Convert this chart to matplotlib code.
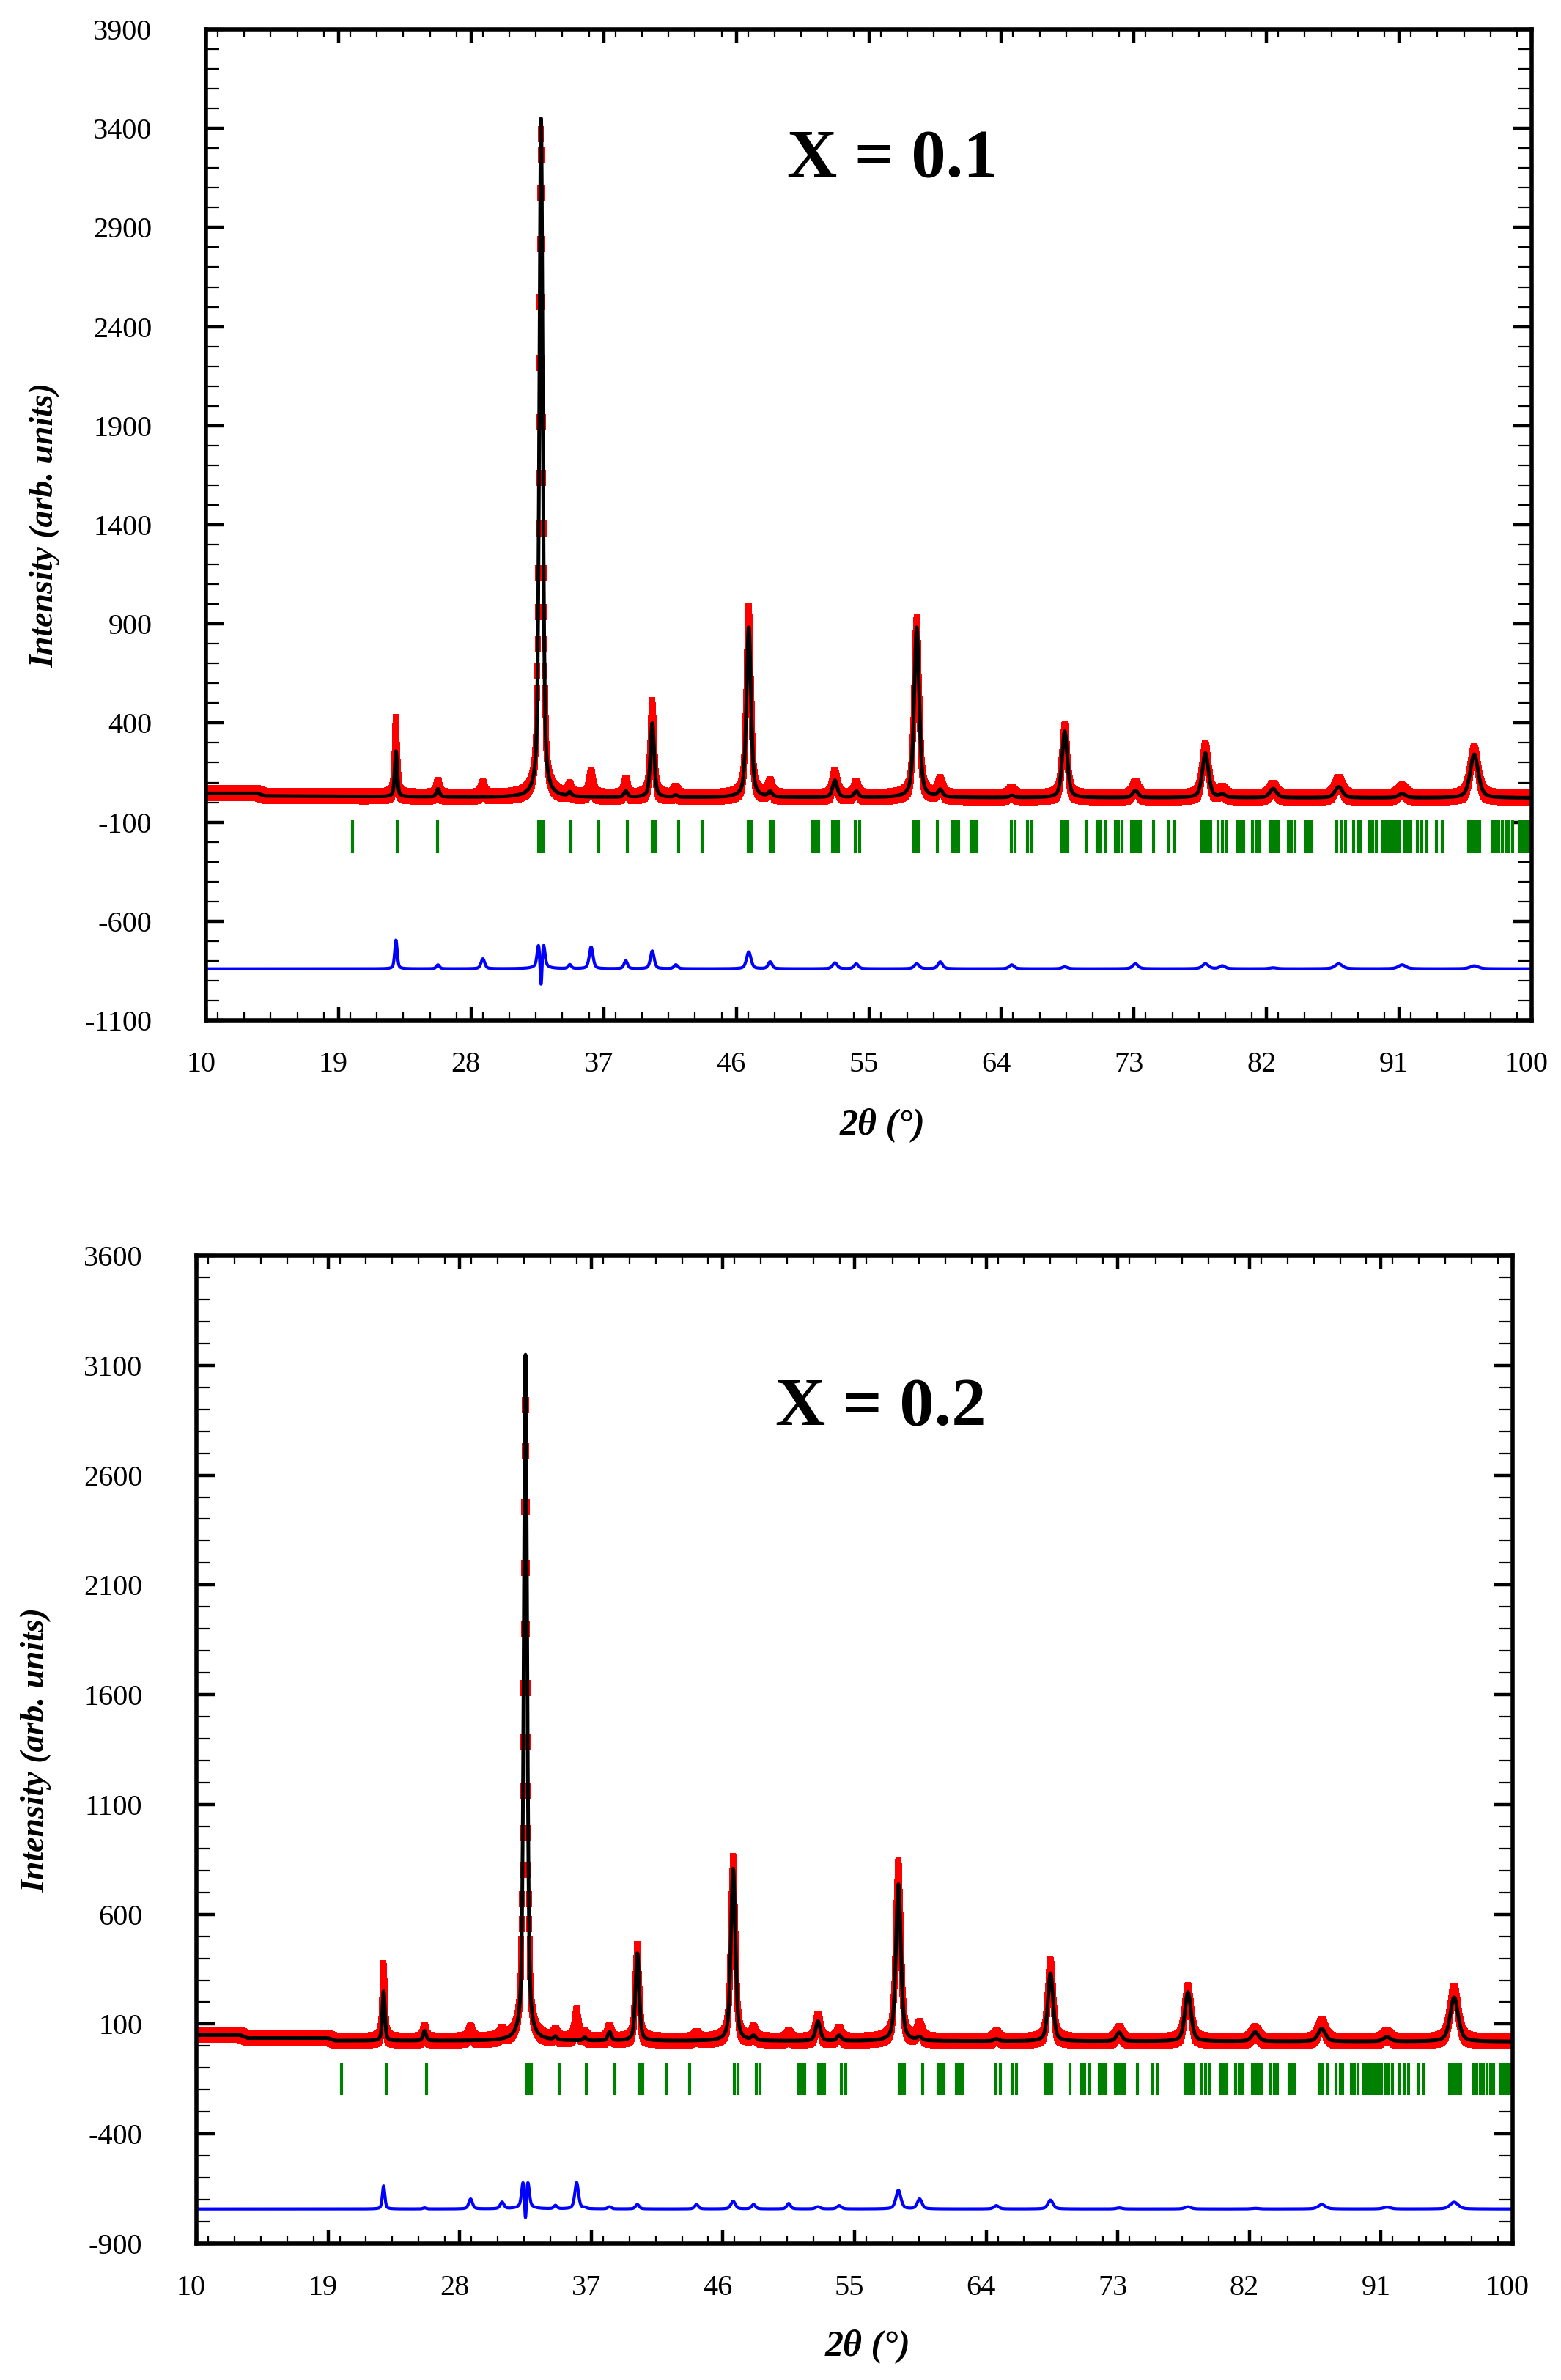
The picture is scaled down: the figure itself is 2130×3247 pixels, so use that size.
#!/usr/bin/env python3

# rietveld_plot.py - Rietveld refinement plots for X = 0.1 and X = 0.2

import matplotlib
matplotlib.use("Agg")
import matplotlib.pyplot as plt
import matplotlib.transforms as mtransforms
from matplotlib.ticker import MultipleLocator
import numpy as np

plt.rcParams["font.family"] = ["Liberation Serif", "DejaVu Serif"]
plt.rcParams["axes.unicode_minus"] = False

# ---- data ----------------------------------------------------------------
# Peak table, X = 0.1 (2theta, calc height, obs height above background, FWHM)
POS_1 = [22.9, 25.75, 28.8, 32.75, 34.7, 36.15, 38.5, 40.3, 41.9, 46.85, 48.3, 52.7,
         54.15, 58.25, 59.85, 64.7, 68.3, 73.1, 77.85, 79.0, 82.45, 86.9, 91.2, 96.1]
CALC_1 = [230, 40, 0, 3440, 20, 0, 30, 375, 10, 860, 25, 85,
          30, 860, 35, 10, 335, 35, 225, 15, 45, 55, 20, 220]
OBS_1 = [375, 60, 50, 3360, 40, 110, 70, 465, 30, 945, 60, 115,
         55, 885, 70, 30, 345, 60, 250, 30, 50, 80, 40, 235]
FWHM_1 = [0.2, 0.25, 0.3, 0.27, 0.25, 0.3, 0.28, 0.3, 0.3, 0.36, 0.32, 0.38,
          0.35, 0.4, 0.38, 0.4, 0.42, 0.45, 0.5, 0.45, 0.55, 0.6, 0.6, 0.65]
FWHM_OBS_1 = [0.2, 0.25, 0.3, 0.29, 0.25, 0.3, 0.28, 0.3, 0.3, 0.36, 0.32, 0.38,
              0.35, 0.4, 0.38, 0.4, 0.42, 0.45, 0.5, 0.45, 0.55, 0.6, 0.6, 0.65]
BG_X_1 = [10, 13.5, 14.0, 30, 100]
BG_Y_1 = [45, 45, 32, 25, 22]

# Peak table, X = 0.2
POS_2 = [22.8, 25.6, 28.75, 30.9, 32.5, 34.55, 36.0, 36.55, 38.25, 40.15, 44.2, 46.7, 48.1,
         50.5, 52.5, 53.95, 58.0, 59.45, 64.7, 68.4, 73.1, 77.8, 82.4, 86.95, 91.4, 96.0]
CALC_2 = [225, 45, 0, 0, 3125, 15, 0, 15, 40, 400, 0, 785, 20,
          0, 90, 25, 715, 15, 10, 310, 40, 225, 42, 58, 20, 202]
OBS_2 = [330, 50, 45, 30, 3085, 30, 120, 20, 50, 420, 20, 820, 40,
         25, 100, 40, 800, 60, 25, 350, 45, 235, 45, 78, 28, 233]
FWHM_2 = [0.2, 0.25, 0.3, 0.3, 0.27, 0.25, 0.3, 0.25, 0.28, 0.3, 0.3, 0.36, 0.32,
          0.3, 0.38, 0.35, 0.4, 0.38, 0.4, 0.42, 0.45, 0.5, 0.55, 0.6, 0.6, 0.65]
FWHM_OBS_2 = [0.2, 0.25, 0.3, 0.3, 0.29, 0.25, 0.3, 0.25, 0.28, 0.3, 0.3, 0.36, 0.32,
              0.3, 0.38, 0.35, 0.4, 0.38, 0.4, 0.42, 0.45, 0.5, 0.55, 0.6, 0.6, 0.65]
BG_X_2 = [10, 13.0, 13.5, 19.0, 19.5, 100]
BG_Y_2 = [50, 50, 36, 36, 24, 20]

# Bragg reflection positions (green ticks)
BRAGG_POS = [19.93, 23.0, 25.74, 32.58, 32.75, 32.9, 34.8, 36.68, 38.59, 40.28, 40.5,
             42.1, 43.7, 46.8, 47.02, 48.3, 48.52, 51.2, 51.4, 51.58, 52.55, 52.75, 52.95,
             54.1, 54.4, 58.05, 58.22, 58.4, 59.64, 60.7, 60.92, 61.1, 61.95, 62.15, 62.35,
             64.66, 64.95, 65.79, 66.05, 68.1, 68.3, 68.5, 69.74, 70.52, 70.75, 71.04,
             71.74, 71.95, 72.2, 72.85, 73.05, 73.25, 73.45, 74.34, 75.38, 75.72, 77.6,
             77.8, 78.02, 78.2, 78.7, 78.99, 79.27, 80.05, 80.25, 80.45, 81.05, 81.3,
             81.55, 82.22, 82.4, 82.6, 82.8, 83.46, 83.69, 83.92, 84.7, 84.9, 85.05,
             86.75, 87.04, 87.36, 87.9, 88.2, 88.37, 89.0, 89.2, 89.45, 89.85, 90.05,
             90.25, 90.45, 90.65, 90.85, 91.03, 91.35, 91.55, 91.8, 92.24, 92.56, 92.9,
             93.54, 93.92, 95.7, 95.9, 96.1, 96.3, 96.45, 97.32, 97.55, 97.78, 98.0,
             98.25, 98.48, 98.7, 99.15, 99.35, 99.55, 99.75, 99.95]

X_TICKS = [10, 19, 28, 37, 46, 55, 64, 73, 82, 91, 100]
Y_TICKS_1 = [-1100, -600, -100, 400, 900, 1400, 1900, 2400, 2900, 3400, 3900]
Y_TICKS_2 = [-900, -400, 100, 600, 1100, 1600, 2100, 2600, 3100, 3600]

STEP = 0.02
ETA = 0.5

OBS_MARKER = [(-0.4, -1), (0.4, -1), (0.4, 1), (-0.4, 1), (-0.4, -1)]


def profile(tth, pos, heights, widths):
    """Sum of pseudo-Voigt peaks."""
    out = np.zeros_like(tth)
    for p, h, w in zip(pos, heights, widths):
        if h == 0:
            continue
        t = (tth - p) / w
        out += h * (ETA / (1 + 4 * t**2) + (1 - ETA) * np.exp(-4 * np.log(2) * t**2))
    return out


def style_axes(ax, yticks, fig):
    ax.set_xlim(10, 100)
    ax.set_ylim(yticks[0], yticks[-1])
    ax.set_xticks(X_TICKS)
    ax.set_yticks(yticks)
    ax.xaxis.set_minor_locator(MultipleLocator(1.8))
    ax.yaxis.set_minor_locator(MultipleLocator(100))
    ax.tick_params(which="both", direction="in", top=True, right=True, labelsize=29)
    ax.tick_params(axis="x", which="major", length=13, width=3.2, pad=30)
    ax.tick_params(axis="x", which="minor", length=8, width=1.6)
    ax.tick_params(axis="y", which="major", length=18, width=3.2, pad=53)
    ax.tick_params(axis="y", which="minor", length=13, width=1.6)
    for sp in ax.spines.values():
        sp.set_linewidth(4)
    shift = mtransforms.ScaledTranslation(-7 / 100, 0, fig.dpi_scale_trans)
    for lab in ax.get_xticklabels():
        lab.set_transform(lab.get_transform() + shift)


def draw_panel(ax, pos, calc_h, obs_h, fwhm, fwhm_obs, bg_x, bg_y, diff_off, bragg_lim):
    tth = np.arange(10, 100 + STEP / 2, STEP)
    bg = np.interp(tth, bg_x, bg_y)
    y_calc = bg + profile(tth, pos, calc_h, fwhm)
    y_obs = bg + profile(tth, pos, obs_h, fwhm_obs)

    ax.plot(tth, y_obs, ls="none", marker=OBS_MARKER, ms=16, mew=0, color="#ff0000")
    ax.plot(tth, y_calc, color="black", lw=3.6)
    ax.vlines(BRAGG_POS, bragg_lim[0], bragg_lim[1], color="#008000", lw=3.0)
    ax.plot(tth, y_obs - y_calc + diff_off, color="#0000ff", lw=3.0)


fig = plt.figure(figsize=(21.3, 32.47), dpi=100, facecolor="white")
W, H = 2130, 3247

ax1 = fig.add_axes([281 / W, 1 - 1392 / H, (2090 - 281) / W, (1392 - 40) / H])
ax2 = fig.add_axes([268 / W, 1 - 3061 / H, (2064 - 268) / W, (3061 - 1713) / H])

draw_panel(ax1, POS_1, CALC_1, OBS_1, FWHM_1, FWHM_OBS_1, BG_X_1, BG_Y_1, -840, (-258, -92))
draw_panel(ax2, POS_2, CALC_2, OBS_2, FWHM_2, FWHM_OBS_2, BG_X_2, BG_Y_2, -742, (-222, -78))

for ax, yt, label, lx, ly, xl_y in [
    (ax1, Y_TICKS_1, "X = 0.1", 0.518, 0.868, -0.088),
    (ax2, Y_TICKS_2, "X = 0.2", 0.520, 0.845, -0.086),
]:
    style_axes(ax, yt, fig)
    ax.text(lx, ly, label, transform=ax.transAxes, ha="center", va="center",
            fontsize=68, fontweight="bold")
    ax.set_ylabel("Intensity (arb. units)", fontsize=33, fontweight="bold", fontstyle="italic")
    ax.yaxis.set_label_coords(-0.11, 0.5)
    ax.set_xlabel("2θ (°)", fontsize=36, fontweight="bold", fontstyle="italic")
    ax.xaxis.set_label_coords(0.51, xl_y)

fig.savefig("out.png", dpi=100)
